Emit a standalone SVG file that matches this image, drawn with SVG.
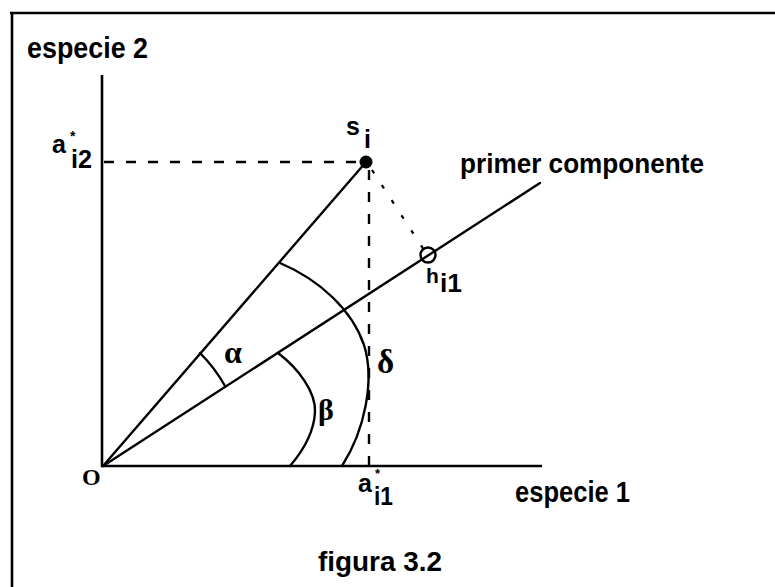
<svg xmlns="http://www.w3.org/2000/svg" width="775" height="587" viewBox="0 0 775 587">
<style>
.ln{stroke:#000;stroke-width:2.4;fill:none;stroke-linecap:round}
.ax{stroke:#000;stroke-width:2.6;fill:none}
.dash{stroke:#000;stroke-width:2.4;fill:none;stroke-dasharray:10 12}
.dot{stroke:#000;stroke-width:2.2;fill:none;stroke-dasharray:4 14}
.lb{font-family:"Liberation Sans",Arial,sans-serif;font-weight:bold;fill:#000}
.gr{font-family:"Liberation Serif","Times New Roman",serif;font-weight:bold;fill:#000}
</style>
<rect width="775" height="587" fill="#fff"/>
<g id="frame">
<line class="ax" x1="10" y1="13" x2="775" y2="13"/>
<line class="ax" x1="12" y1="12" x2="12" y2="587"/>
</g>
<g id="axes">
<line class="ax" x1="102" y1="75" x2="102" y2="467"/>
<line class="ax" x1="101" y1="466" x2="542" y2="466"/>
</g>
<g id="connectors">
<line class="ln" x1="103" y1="466" x2="366" y2="162"/>
<line class="ln" x1="103" y1="466" x2="540" y2="183"/>
<line class="dash" x1="104" y1="162" x2="360" y2="162"/>
<line class="dash" x1="369" y1="170" x2="369" y2="466"/>
<line class="dot" x1="372" y1="170" x2="424" y2="250"/>
<path class="ln" d="M200,353 A148,148 0 0 1 225,386"/>
<path class="ln" d="M278,353 C298,368 316,392 315,412 C314,432 302,452 290,466"/>
<path class="ln" d="M280,263 C320,280 352,310 364,345 C375,380 365,430 342,466"/>
</g>
<g id="origin">
<text class="gr" x="82" y="485" font-size="24">O</text>
</g>
<g id="s_i">
<circle cx="366" cy="162" r="6.5" fill="#000"/>
<text class="lb" x="346" y="135" font-size="25">s<tspan x="364" y="148">i</tspan></text>
</g>
<g id="h_i1">
<circle cx="428" cy="255" r="7.5" fill="none" stroke="#000" stroke-width="2.4"/>
<text class="lb" x="426" y="283" font-size="21">h<tspan x="440" y="292" font-size="26" textLength="22" lengthAdjust="spacingAndGlyphs">i1</tspan></text>
</g>
<g id="a_i2">
<text class="lb" x="52" y="153" font-size="25">a</text>
<text class="lb" x="70" y="141" font-size="14">*</text>
<text class="lb" x="71" y="168" font-size="25" textLength="21" lengthAdjust="spacingAndGlyphs">i2</text>
</g>
<g id="a_i1">
<text class="lb" x="358" y="492" font-size="25">a</text>
<text class="lb" x="375" y="478" font-size="13">*</text>
<text class="lb" x="374" y="505" font-size="25" textLength="19" lengthAdjust="spacingAndGlyphs">i1</text>
</g>
<g id="angles">
<text class="gr" x="224" y="363" font-size="32">α</text>
<text class="gr" x="318" y="420" font-size="30">β</text>
<text class="gr" x="377" y="373" font-size="33">δ</text>
</g>
<g id="labels">
<text class="lb" x="27" y="58" font-size="29" textLength="121" lengthAdjust="spacingAndGlyphs">especie 2</text>
<text class="lb" x="460" y="173" font-size="27" textLength="244" lengthAdjust="spacingAndGlyphs">primer componente</text>
<text class="lb" x="515" y="502" font-size="29" textLength="115" lengthAdjust="spacingAndGlyphs">especie 1</text>
<text class="lb" x="318" y="571" font-size="27" textLength="124" lengthAdjust="spacingAndGlyphs">figura 3.2</text>
</g>
</svg>
